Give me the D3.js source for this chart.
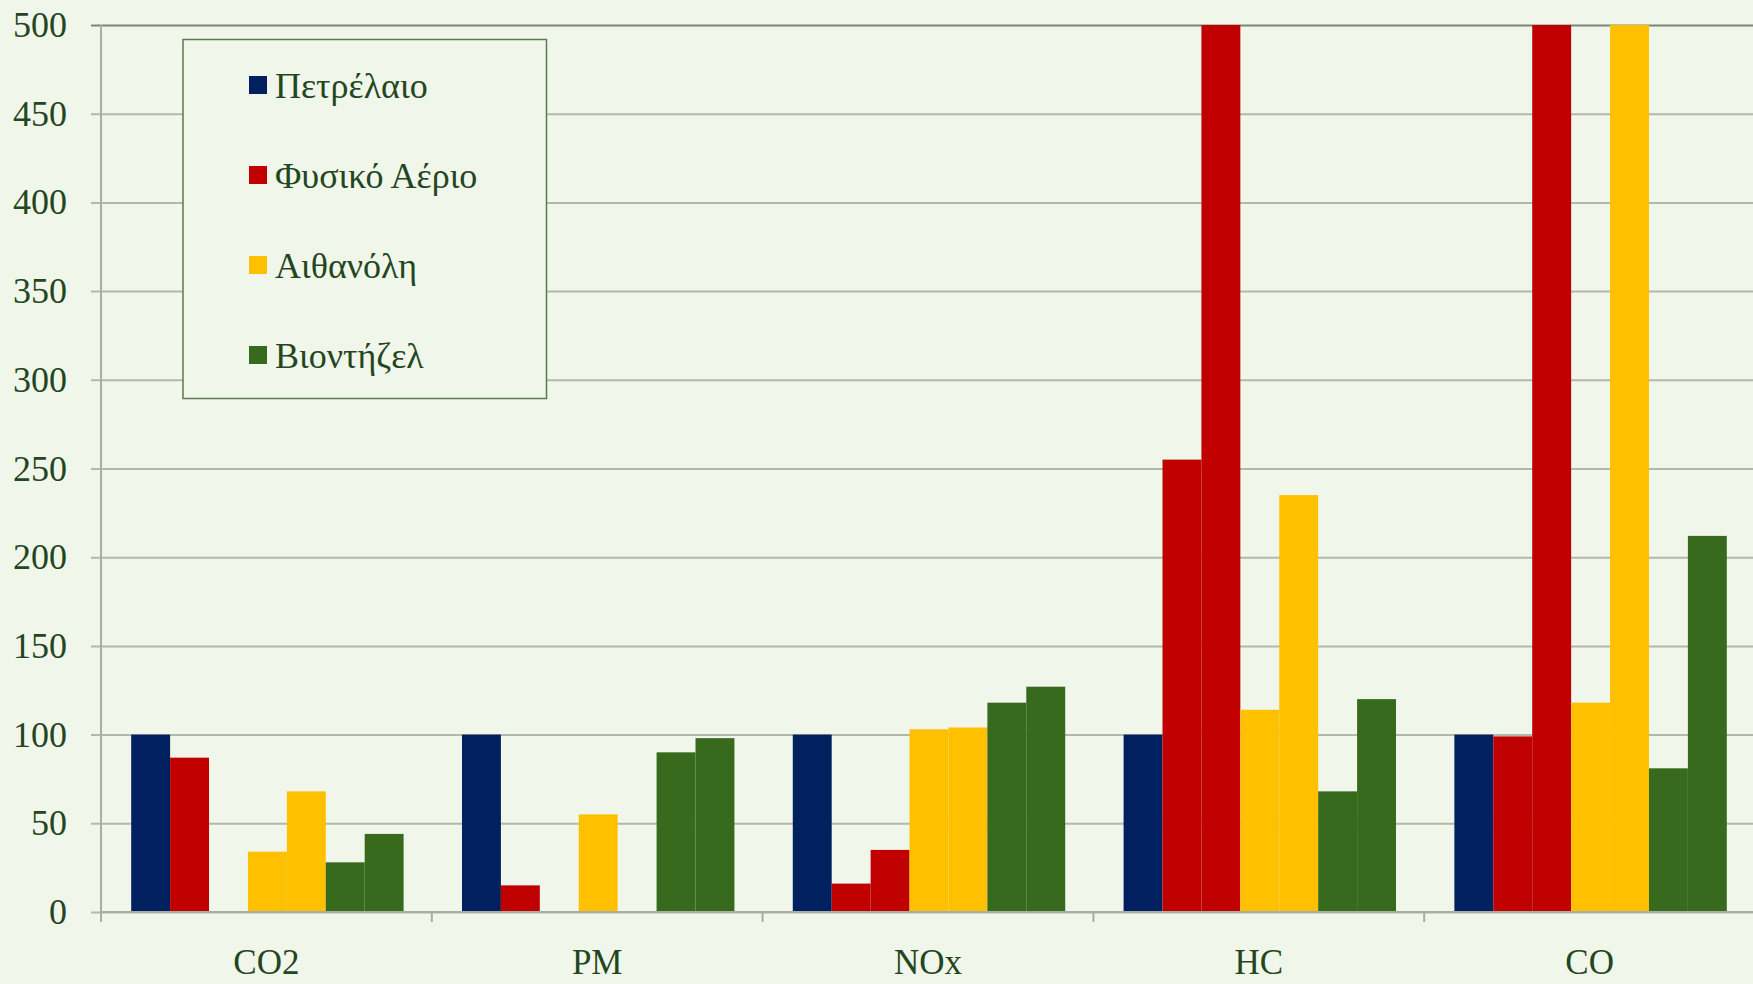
<!DOCTYPE html>
<html>
<head>
<meta charset="utf-8">
<script src="https://cdn.jsdelivr.net/npm/d3@7"></script>
<style>
  html, body { margin: 0; padding: 0; background: #F0F6E9; }
  svg { display: block; }
</style>
</head>
<body>
<svg id="chart" width="1753" height="984"></svg>
<script>
// ---- data ----
const categories = ["CO2", "PM", "NOx", "HC", "CO"];
const fuels = ["Πετρέλαιο", "Φυσικό Αέριο", "Αιθανόλη", "Βιοντήζελ"];
const fuelColors = ["#002060", "#C00000", "#FFC000", "#386A1E"];
const yTicks = [0, 50, 100, 150, 200, 250, 300, 350, 400, 450, 500];

// two bars per alternative fuel (low / high estimate), one for petroleum
const petroleum    = [100, 100, 100, 100, 100];
const naturalGasA  = [87, 15, 16, 255, 99];
const naturalGasB  = [null, null, 35, 500, 500];
const ethanolA     = [34, 55, 103, 114, 118];
const ethanolB     = [68, null, 104, 235, 500];
const biodieselA   = [28, 90, 118, 68, 81];
const biodieselB   = [44, 98, 127, 120, 212];

const barSeries = [
  { fuel: 0, values: petroleum },
  { fuel: 1, values: naturalGasA },
  { fuel: 1, values: naturalGasB },
  { fuel: 2, values: ethanolA },
  { fuel: 2, values: ethanolB },
  { fuel: 3, values: biodieselA },
  { fuel: 3, values: biodieselB }
];

// ---- layout ----
const W = 1753, H = 984;
const margin = { left: 101, top: 25, right: -2, bottom: 72 };
const svg = d3.select("#chart");
const textColor = "#24461F";
const fontFam = "'Liberation Serif', 'DejaVu Serif', serif";

const x0 = d3.scaleBand().domain(categories)
  .range([margin.left, W - margin.right]).padding(0);
const x1 = d3.scaleBand().domain(d3.range(barSeries.length))
  .range([0, x0.bandwidth()]).paddingInner(0).paddingOuter(0.75);
const y = d3.scaleLinear().domain([0, 500]).range([H - margin.bottom, margin.top]);

// gridlines
const yAxis = d3.axisLeft(y).tickValues(yTicks).tickSize(-(W - margin.left - margin.right)).tickSizeOuter(0).tickPadding(34);
const gy = svg.append("g").attr("transform", `translate(${margin.left},0)`).call(yAxis);
gy.select(".domain").remove();
gy.selectAll(".tick line").attr("stroke", "#B3B8AC").attr("stroke-width", 2)
  .attr("x1", -10);
gy.selectAll(".tick text")
  .attr("fill", textColor).attr("font-family", fontFam).attr("font-size", 36);
gy.selectAll(".tick").filter(d => d === 500).select("line").attr("stroke", "#7D857A");

// legend
const lg = svg.append("g");
lg.append("rect").attr("x", 183).attr("y", 39.5).attr("width", 363.5).attr("height", 359)
  .attr("fill", "#F0F6E9").attr("stroke", "#5B7A52").attr("stroke-width", 1.5);
fuels.forEach((f, i) => {
  const cy = 85 + i * 90;
  lg.append("rect").attr("x", 249).attr("y", cy - 9).attr("width", 18).attr("height", 18)
    .attr("fill", fuelColors[i]);
  lg.append("text").attr("x", 275).attr("y", cy).attr("dy", "0.35em")
    .attr("fill", textColor).attr("font-family", fontFam).attr("font-size", 36)
    .text(f);
});

// bars
const groups = svg.append("g").selectAll("g").data(categories).join("g")
  .attr("transform", d => `translate(${x0(d)},0)`);
groups.selectAll("rect")
  .data((c, ci) => barSeries.map((s, si) => ({ si, fuel: s.fuel, v: s.values[ci] })).filter(d => d.v != null))
  .join("rect")
  .attr("x", d => x1(d.si) + 1)
  .attr("width", x1.bandwidth())
  .attr("y", d => y(Math.min(d.v, 500)))
  .attr("height", d => y(0) - y(Math.min(d.v, 500)))
  .attr("fill", d => fuelColors[d.fuel]);

// left axis line
svg.append("line").attr("x1", margin.left).attr("x2", margin.left)
  .attr("y1", margin.top).attr("y2", y(0))
  .attr("stroke", "#A9AEA2").attr("stroke-width", 2);

// x axis
const boundaries = categories.map(c => x0(c));
const gx = svg.append("g");
gx.append("line").attr("x1", margin.left).attr("x2", W).attr("y1", y(0)).attr("y2", y(0))
  .attr("stroke", "#A9AEA2").attr("stroke-width", 2);
gx.selectAll("line.tk").data(boundaries).join("line").attr("class", "tk")
  .attr("x1", d => d).attr("x2", d => d).attr("y1", y(0)).attr("y2", y(0) + 10)
  .attr("stroke", "#A9AEA2").attr("stroke-width", 2);
gx.selectAll("text").data(categories).join("text")
  .attr("x", d => x0(d) + x0.bandwidth() / 2).attr("y", 974)
  .attr("text-anchor", "middle")
  .attr("fill", textColor).attr("font-family", fontFam).attr("font-size", 35)
  .text(d => d);
</script>
</body>
</html>
